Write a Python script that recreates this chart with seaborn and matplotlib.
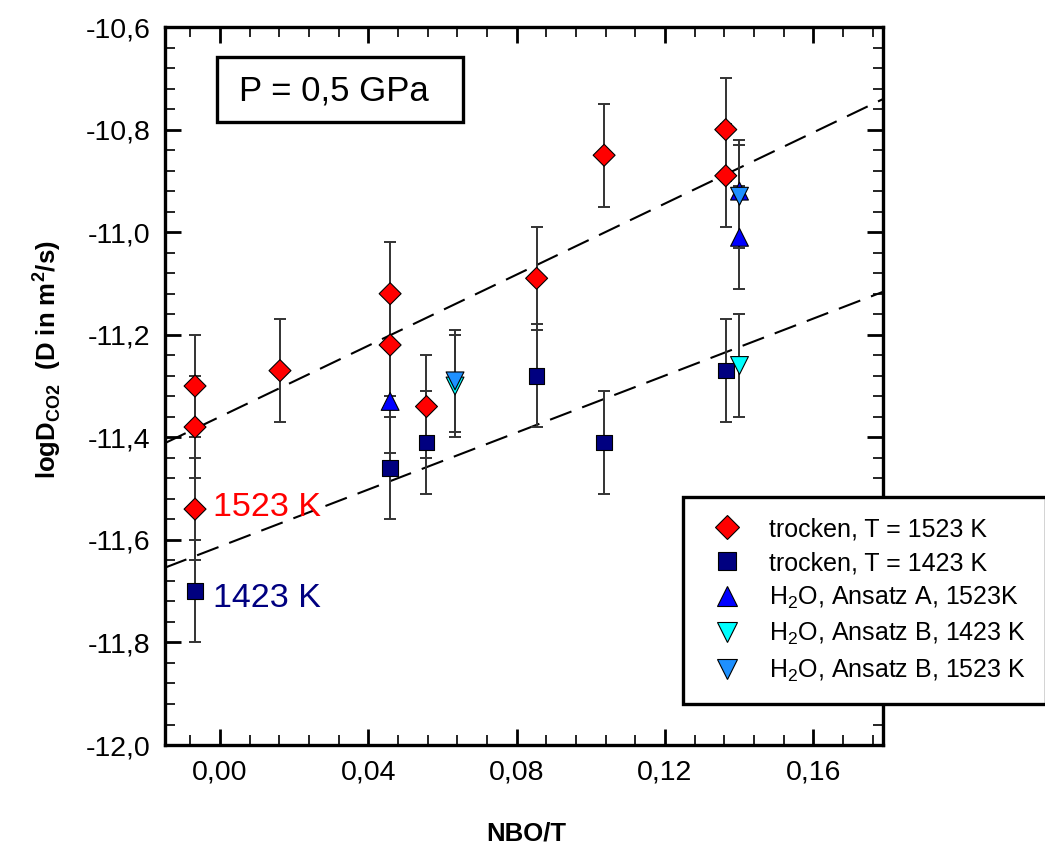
import numpy as np
import pandas as pd
import matplotlib
matplotlib.use("Agg")
import matplotlib.pyplot as plt
import seaborn as sns
from matplotlib.ticker import MultipleLocator, FuncFormatter
from matplotlib.patches import Rectangle

# Data (NBO/T vs logD, error +-0.1)
dry_1523_x = [-0.0067, -0.0067, -0.0067, 0.0162, 0.0459, 0.0459, 0.0557, 0.0854, 0.1036, 0.1364, 0.1364]
dry_1523_y = [-11.30, -11.38, -11.54, -11.27, -11.12, -11.22, -11.34, -11.09, -10.85, -10.80, -10.89]
dry_1423_x = [-0.0067, 0.0459, 0.0557, 0.0854, 0.1036, 0.1364]
dry_1423_y = [-11.70, -11.46, -11.41, -11.28, -11.41, -11.27]
wetA_1523_x = [0.0459, 0.1401, 0.1401]
wetA_1523_y = [-11.33, -10.92, -11.01]
wetB_1423_x = [0.0634, 0.1401]
wetB_1423_y = [-11.30, -11.26]
wetB_1523_x = [0.0634, 0.1401]
wetB_1523_y = [-11.29, -10.93]
y_err = 0.1

# linear fits (slope, intercept)
fit_1523 = (3.465, -11.360)
fit_1423 = (2.778, -11.613)

labels = ["trocken, T = 1523 K", "trocken, T = 1423 K", "H$_2$O, Ansatz A, 1523K",
          "H$_2$O, Ansatz B, 1423 K", "H$_2$O, Ansatz B, 1523 K"]
colors = ["#FF0000", "#000080", "#0000FF", "#00FFFF", "#1E90FF"]
markers = ["D", "s", "^", "v", "v"]
sizes = [125, 125, 165, 165, 165]

xs = [dry_1523_x, dry_1423_x, wetA_1523_x, wetB_1423_x, wetB_1523_x]
ys = [dry_1523_y, dry_1423_y, wetA_1523_y, wetB_1423_y, wetB_1523_y]
df = pd.concat([pd.DataFrame({"NBO/T": x, "logD": y, "series": lab})
                for x, y, lab in zip(xs, ys, labels)], ignore_index=True)

sns.set_style("ticks")
plt.rcParams["font.family"] = ["Liberation Sans", "DejaVu Sans"]
plt.rcParams["mathtext.fontset"] = "custom"
plt.rcParams["mathtext.rm"] = "Liberation Sans"
plt.rcParams["mathtext.bf"] = "Liberation Sans:bold"
for key in ["text.color", "axes.labelcolor", "xtick.color", "ytick.color", "axes.edgecolor"]:
    plt.rcParams[key] = "black"

fig = plt.figure(figsize=(10.45, 8.47), dpi=100)
ax = fig.add_axes([0.1579, 0.1204, 0.6871, 0.8477])

# error bars
ax.errorbar(df["NBO/T"], df["logD"], yerr=y_err, fmt="none", ecolor="#333333",
            elinewidth=1.4, capsize=4.3, capthick=1.4, zorder=2)

# fit lines
for m, b in [fit_1523, fit_1423]:
    ax.axline((0, b), slope=m, color="black", lw=1.5, dashes=(11, 5.5), zorder=1)

sns.scatterplot(data=df, x="NBO/T", y="logD", hue="series", style="series", size="series",
                hue_order=labels, style_order=labels, size_order=labels,
                palette=dict(zip(labels, colors)), markers=dict(zip(labels, markers)),
                sizes=dict(zip(labels, sizes)), edgecolor="black", linewidth=0.8,
                zorder=4, ax=ax)

ax.set_xlim(-0.0148, 0.1788)
ax.set_ylim(-12.0, -10.6)
ax.xaxis.set_major_locator(MultipleLocator(0.04))
ax.xaxis.set_minor_locator(MultipleLocator(0.008))
ax.yaxis.set_major_locator(MultipleLocator(0.2))
ax.yaxis.set_minor_locator(MultipleLocator(0.04))
ax.xaxis.set_major_formatter(FuncFormatter(lambda v, p: f"{v:.2f}".replace(".", ",").replace("-0,00", "0,00")))
ax.yaxis.set_major_formatter(FuncFormatter(lambda v, p: f"{v:.1f}".replace(".", ",")))
ax.tick_params(which="both", direction="in", top=True, right=True, labelsize=20.5, pad=10.5,
               color="black", labelcolor="black")
ax.tick_params(which="major", length=11.5, width=2)
ax.tick_params(which="minor", length=7, width=1.2)
for s in ax.spines.values():
    s.set_linewidth(2.4)
    s.set_color("black")

ax.set_xlabel("NBO/T", fontsize=18.5, fontweight="bold")
ax.set_ylabel(r"logD$_{\mathbf{CO2}}$  (D in m$^{\mathbf{2}}$/s)", fontsize=18.5, fontweight="bold")
ax.xaxis.set_label_coords(0.503, -0.106)
ax.yaxis.set_label_coords(-0.142, 0.536)

# annotations
ax.text(-0.0019, -11.553, "1523 K", color="#FF0000", fontsize=24.5, ha="left", va="baseline")
ax.text(-0.0019, -11.730, "1423 K", color="#000080", fontsize=24.5, ha="left", va="baseline")
ax.add_patch(Rectangle((0.0724, 0.8677), 0.3426, 0.0905, transform=ax.transAxes,
                       fill=False, edgecolor="black", lw=2.4, zorder=5))
ax.text(0.1031, 0.8983, "P = 0,5 GPa", transform=ax.transAxes, fontsize=25,
        ha="left", va="baseline")

handles, labs = ax.get_legend_handles_labels()
ax.get_legend().remove()
leg = ax.legend(handles, labs, loc="upper left", bbox_to_anchor=(0.7214, 0.3454),
                borderaxespad=0, frameon=True, fancybox=False, edgecolor="black",
                framealpha=1, fontsize=18, borderpad=0.8, handlelength=1.9,
                handletextpad=0.75, labelspacing=0.4, markerscale=1.1)
leg.get_frame().set_linewidth(2.4)
leg.set_zorder(10)

fig.savefig("out.png", dpi=100)
